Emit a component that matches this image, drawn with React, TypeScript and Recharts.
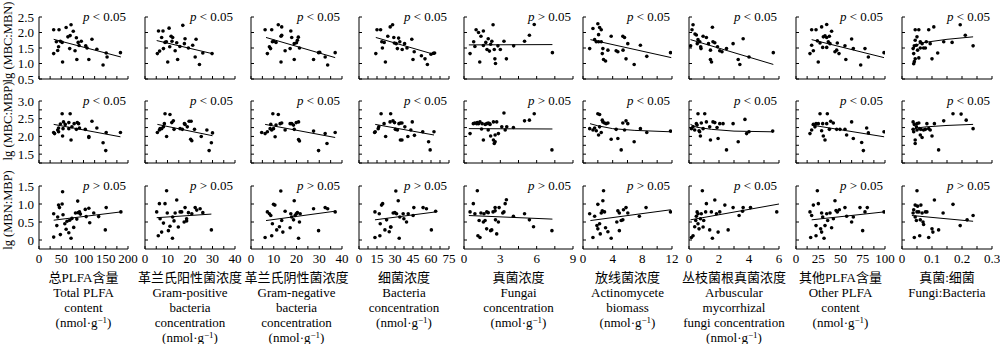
import React from "react";
import { ScatterChart, Scatter, XAxis, YAxis } from "recharts";

// ---- row 1: lg(MBC:MBN) ----
const r1c1 = [[33,2.09],[45,2.09],[61,2.16],[72,2.25],[77,2.04],[65,1.86],[70,1.9],[84,1.83],[39,1.7],[48,1.72],[52,1.68],[44,1.54],[33,1.32],[42,1.42],[53,1.05],[69,1.48],[81,1.41],[85,1.13],[88,1.68],[90,1.58],[95,1.72],[105,1.57],[108,1.5],[119,1.78],[112,1.13],[130,1.46],[144,0.95],[151,1.34],[153,1.21],[183,1.35]];
const r1c2 = [[5.5,1.32],[6.5,1.4],[6,2.05],[8,2.05],[10.7,2.14],[16.8,2.23],[7.4,1.84],[11.6,1.88],[12.3,1.84],[14.1,1.67],[8.9,1.68],[8.2,1.48],[10.1,1.05],[11,1.54],[13.4,1.41],[14.5,1.13],[17.8,1.8],[17.5,1.64],[19.3,1.5],[21.2,1.59],[22.7,1.78],[22.3,1.21],[24.2,0.97],[25.7,1.34],[29.8,1.32],[12,1.72],[15.5,1.55],[9.5,1.7]];
const r1c3 = [[6.2,2.09],[9.1,2.09],[12,2.25],[13.5,2.18],[7.2,1.32],[8.1,1.54],[8.6,1.48],[9.4,1.7],[10,1.72],[11,1.68],[13.2,1.88],[13.5,1.91],[13.2,1.05],[15,1.41],[17.2,1.48],[17.5,2.05],[17.9,1.84],[19,1.64],[19,1.13],[20.4,1.75],[20.8,1.85],[20,1.67],[21.3,1.5],[27.5,1.13],[29.7,1.35],[30.2,1.36],[32.6,1.21],[33.7,0.95],[37,1.35]];
const r1c4 = [[14,1.32],[15,2.09],[18,2.09],[19,1.7],[19.5,1.5],[21,1.68],[22,1.05],[24,1.88],[26,2.18],[28,2.25],[29,1.84],[29.5,1.66],[31,1.64],[32,1.48],[33,1.82],[34,1.7],[36,1.45],[38,1.64],[40,1.5],[44,1.78],[46,1.38],[45,1.13],[52,1.25],[55,1.15],[57,0.97],[60,1.3],[62,1.33],[63,1.34]];
const r1c5 = [[0.5,1.32],[0.8,1.7],[0.9,1.55],[1.0,2.09],[1.2,2.0],[1.3,1.05],[1.4,1.88],[1.6,2.05],[1.6,1.58],[1.8,1.68],[2.0,1.8],[2.1,1.4],[2.2,1.62],[2.3,1.72],[2.4,2.25],[2.5,1.45],[2.55,1.15],[2.6,1.0],[2.8,1.57],[3.0,1.45],[3.3,1.72],[3.5,1.15],[4.1,1.57],[5.0,1.72],[5.4,1.91],[5.8,2.26],[7.3,1.35],[1.9,1.45]];
const r1c6 = [[0.9,1.48],[1.34,2.13],[1.57,1.77],[1.79,1.7],[2.0,2.28],[2.24,2.16],[2.46,2.09],[2.1,1.93],[2.68,1.48],[2.6,1.32],[2.77,1.13],[3.04,1.08],[3.36,1.43],[3.8,1.88],[4.47,1.41],[4.7,1.38],[5.37,1.88],[5.6,1.84],[5.4,1.43],[5.8,1.15],[6.04,1.64],[6.9,0.97],[7.74,1.59],[8.6,1.23],[11.8,1.35],[2.46,1.7],[2.1,1.7]];
const r1c7 = [[0.11,1.57],[0.2,2.09],[0.27,2.25],[0.4,1.95],[0.49,1.92],[0.6,1.77],[0.55,1.64],[0.72,1.7],[0.78,1.54],[0.8,1.48],[0.94,1.88],[1.16,1.84],[1.3,1.64],[1.43,1.43],[1.56,2.17],[1.6,1.7],[1.5,1.05],[1.43,1.13],[1.72,1.67],[1.9,1.54],[2.05,1.41],[2.2,1.38],[2.5,1.48],[2.94,1.64],[3.28,1.13],[3.39,0.97],[3.61,1.8],[4.0,1.21],[5.62,1.35]];
const r1c8 = [[17.6,2.09],[22.5,2.09],[28.8,2.18],[34.5,2.26],[40,2.04],[17.6,1.59],[15.7,1.32],[19.5,1.41],[25,1.05],[24,1.73],[27,1.66],[30.7,1.86],[32.6,1.89],[34.5,1.84],[36.3,1.7],[30,1.52],[34.5,1.52],[38.2,1.64],[43.8,1.38],[46.4,1.66],[45.7,1.43],[48.3,1.32],[56,1.13],[55,1.57],[62.5,1.79],[64.4,1.48],[72.7,0.95],[77.5,1.48],[81.3,1.21],[98.9,1.35],[37.5,1.88]];
const r1c9 = [[0.039,1.32],[0.041,1.57],[0.037,1.48],[0.044,1.75],[0.044,2.09],[0.056,2.09],[0.05,1.86],[0.048,1.59],[0.052,1.43],[0.061,1.5],[0.044,1.15],[0.039,0.99],[0.041,1.06],[0.056,1.18],[0.067,1.64],[0.072,1.5],[0.081,1.7],[0.089,2.09],[0.094,1.64],[0.106,2.18],[0.1,1.15],[0.119,1.34],[0.139,1.7],[0.167,1.68],[0.194,2.25],[0.211,1.91],[0.237,1.57],[0.078,1.5],[0.061,1.7]];

const f1c1 = [[33,1.78],[184,1.21]];
const f1c2 = [[5.2,1.74],[29.8,1.32]];
const f1c3 = [[6.6,1.84],[37,1.19]];
const f1c4 = [[14,1.84],[63,1.29]];
const f1c5 = [[0.4,1.6],[7.3,1.61]];
const f1c6 = [[1.0,1.77],[11.9,1.19]];
const f1c7 = [[0.1,1.77],[5.62,0.97]];
const f1c8 = [[17.6,1.77],[98.9,1.19]];
const f1c9 = [[0.037,1.45],[0.045,1.57],[0.06,1.65],[0.09,1.7],[0.15,1.78],[0.237,1.86]];

// ---- row 2: lg(MBC:MBP) ----
const r2c1 = [[33,2.11],[35,2.08],[42,2.18],[44,2.24],[44,2.13],[48,2.35],[52,2.64],[55,2.41],[53,2.01],[54,2.22],[59,2.34],[67,2.39],[70,2.64],[72,1.9],[67,2.22],[74,2.27],[79,2.36],[84,2.2],[86,2.39],[89,2.36],[91,2.24],[104,2.2],[112,2.0],[112,1.97],[119,2.43],[130,2.24],[144,1.82],[150,1.6],[151,2.11],[183,2.11]];
const r2c2 = [[5.5,2.11],[6.4,2.18],[7.4,2.22],[8.2,2.27],[8.9,2.64],[11.1,2.62],[8.6,2.36],[9.6,2.0],[11.9,2.39],[12.6,2.44],[12.9,2.2],[15.6,2.22],[17.5,2.36],[17.8,2.34],[18.8,2.27],[19.6,2.43],[20.5,2.43],[20.3,1.92],[20.8,1.88],[22,2.2],[25,2.0],[27.5,2.18],[28.5,1.6],[30,2.1],[29.5,1.82],[6.7,2.22],[16.6,2.2]];
const r2c3 = [[4.7,2.11],[6.2,2.08],[7.2,2.13],[8.4,2.22],[9.1,2.18],[9.6,2.64],[10.6,1.99],[11,2.32],[12,2.62],[12.8,2.36],[13.5,2.38],[15,2.18],[17.2,2.36],[17.9,2.36],[18.7,2.32],[19,2.2],[19.9,2.39],[20.9,2.41],[20.9,1.91],[21.3,1.87],[27.5,2.15],[29.7,1.6],[32.6,2.08],[33.4,1.8],[37,2.11],[9.9,2.22],[8.7,2.34]];
const r2c4 = [[13,2.11],[13.5,2.13],[16,2.22],[16.5,2.27],[18.4,2.64],[20.9,2.36],[22.2,2.0],[25.9,2.41],[26.4,2.64],[28.3,2.44],[29.6,2.39],[30.3,2.2],[32,2.18],[33.3,2.36],[34.5,2.38],[35.8,2.38],[34.5,1.9],[35.8,1.9],[38.2,2.27],[40.7,2.0],[43.2,2.18],[44.4,2.41],[46.2,2.03],[53.1,2.13],[58,1.85],[59.3,1.62],[62.5,2.13]];
const r2c5 = [[0.5,2.08],[0.77,2.36],[0.9,2.38],[1.05,2.36],[1.1,2.39],[1.2,2.36],[1.32,2.41],[1.45,2.21],[1.5,2.36],[1.6,1.9],[1.75,2.34],[1.88,2.36],[2.0,2.38],[2.15,2.34],[2.2,2.01],[2.43,1.9],[2.5,1.8],[2.0,2.18],[2.1,2.36],[2.43,2.41],[2.57,2.04],[2.57,1.85],[2.7,2.41],[2.84,2.08],[3.12,2.27],[3.3,2.66],[3.4,2.18],[3.53,2.27],[4.08,2.25],[5.0,2.44],[5.4,2.46],[5.8,2.64],[7.26,1.62]];
const r2c6 = [[0.9,2.22],[1.34,2.18],[1.57,2.24],[1.79,2.16],[2.0,2.64],[2.24,2.62],[2.1,2.04],[2.46,2.11],[2.6,2.46],[2.68,2.41],[2.9,2.38],[3.13,2.36],[3.36,2.38],[3.8,1.92],[4.7,1.94],[4.47,2.2],[5.37,2.38],[5.8,2.44],[6.04,2.36],[5.15,1.62],[5.6,2.18],[6.9,1.85],[7.74,2.22],[8.6,2.11],[11.8,2.15],[2.24,2.27]];
const r2c7 = [[0.16,2.22],[0.27,2.27],[0.38,2.18],[0.49,2.36],[0.6,2.64],[0.67,2.16],[0.76,2.01],[0.82,2.38],[1.05,2.64],[1.16,2.41],[1.38,2.27],[1.43,1.9],[1.6,2.41],[1.72,2.39],[1.87,2.25],[1.94,1.94],[2.05,2.36],[2.27,2.36],[2.5,1.62],[2.94,2.36],[3.28,1.85],[0.54,2.32],[0.71,2.13],[0.94,2.22],[3.73,2.48],[3.84,2.08],[4.0,2.13],[5.58,2.15]];
const r2c8 = [[15.7,2.08],[17.6,2.18],[19.5,2.34],[22.5,2.36],[27,2.64],[28.8,2.16],[30.7,2.01],[32.6,1.9],[30,2.36],[34.5,2.36],[35.2,2.64],[37.5,2.2],[39,2.43],[41.9,2.38],[45.7,2.2],[49.4,2.2],[55,2.2],[56.9,2.04],[62.5,2.41],[64.4,1.94],[73.8,1.83],[75.7,1.6],[79.4,2.24],[81.3,2.1],[98.9,2.13],[21.3,2.27],[25.1,2.36]];
const r2c9 = [[0.037,2.41],[0.041,2.34],[0.037,2.2],[0.039,2.13],[0.044,1.9],[0.044,1.8],[0.05,2.36],[0.056,2.38],[0.059,2.22],[0.061,2.04],[0.067,1.97],[0.072,2.18],[0.078,2.2],[0.083,2.36],[0.089,2.22],[0.1,2.01],[0.108,2.36],[0.122,1.62],[0.139,2.44],[0.17,2.64],[0.197,2.63],[0.214,2.46],[0.237,2.22],[0.094,2.18],[0.05,2.18],[0.063,2.2],[0.048,2.27]];

const f2c1 = [[33,2.34],[183,1.99]];
const f2c2 = [[5.5,2.34],[30,2.02]];
const f2c3 = [[6.2,2.34],[37,1.97]];
const f2c4 = [[13.5,2.34],[62.5,2.04]];
const f2c5 = [[0.4,2.22],[7.3,2.21]];
const f2c6 = [[0.95,2.36],[2,2.3],[4,2.22],[7,2.17],[11.9,2.13]];
const f2c7 = [[0.1,2.34],[0.5,2.26],[1.5,2.2],[3,2.15],[5.6,2.13]];
const f2c8 = [[17.6,2.32],[99,1.99]];
const f2c9 = [[0.037,2.2],[0.05,2.24],[0.08,2.27],[0.15,2.31],[0.237,2.34]];

// ---- row 3: lg(MBN:MBP) ----
const r3c1 = [[33,0.73],[33,0.08],[42,0.64],[44,0.97],[46,0.9],[48,0.15],[52,1.0],[53,1.34],[54,0.7],[58,0.45],[61,0.3],[63,0.52],[67,0.2],[69,0.55],[72,0.05],[74,0.6],[78,0.35],[82,0.75],[85,0.58],[87,1.08],[91,0.78],[93,0.72],[104,0.85],[106,0.65],[112,0.88],[114,0.48],[123,0.75],[134,0.65],[149,0.28],[151,0.9],[184,0.78],[40,0.4],[88,0.76]];
const r3c2 = [[5.2,0.78],[5.9,0.12],[6.4,1.01],[7.4,0.22],[8.2,0.47],[8.9,1.01],[9.6,1.37],[9.9,0.75],[10.4,0.26],[11.1,0.38],[12.2,0.05],[12.3,0.64],[12.9,0.53],[13.4,0.75],[14.1,1.11],[14.8,0.36],[15.6,0.78],[16.3,0.78],[17.4,0.5],[17.8,0.9],[18.5,0.59],[19.3,0.76],[20.8,0.73],[22.3,0.9],[23,0.83],[24.5,0.87],[25.7,0.76],[29.5,0.28],[6.7,0.59],[18.5,0.53]];
const r3c3 = [[6.2,0.07],[7.2,0.78],[8.1,0.73],[8.7,0.68],[9.1,0.12],[9.9,0.99],[10.5,0.97],[9.4,0.45],[11.3,0.28],[12.5,0.37],[13.1,1.36],[13.5,0.54],[14,0.22],[15,0.8],[17.2,0.34],[17.5,0.73],[17.9,0.64],[19,1.09],[18.7,0.56],[19.9,0.73],[20.4,0.76],[20.9,0.05],[21.3,0.5],[21.6,0.73],[27.5,0.87],[29.7,0.26],[32.6,0.9],[33.7,0.87],[37,0.78],[19.4,0.68]];
const r3c4 = [[13.3,0.78],[13.3,0.07],[16.9,0.73],[17.4,0.12],[18.8,0.97],[19.7,1.01],[17.7,0.45],[21.6,0.28],[23,0.56],[25.2,0.23],[26.3,0.36],[28.5,0.75],[29.9,0.76],[30.7,1.36],[32.7,1.09],[33.5,0.05],[34,0.64],[36.8,0.73],[37.4,0.59],[39.6,0.5],[41,0.73],[45.1,0.68],[45.7,0.9],[53.4,0.9],[56.2,0.87],[60.3,0.28],[63.9,0.8],[31.3,0.73],[26.6,0.36]];
const r3c5 = [[0.5,0.78],[0.77,1.01],[0.9,0.73],[1.1,1.37],[1.15,0.12],[1.32,0.07],[1.25,0.54],[1.4,0.75],[1.6,0.5],[1.65,0.73],[1.74,0.54],[1.87,0.31],[1.88,0.78],[2.0,0.76],[2.2,0.26],[2.29,0.28],[2.4,0.78],[2.57,0.9],[2.6,0.56],[2.57,0.81],[2.7,0.17],[2.84,0.5],[2.9,0.9],[3.2,0.75],[3.3,0.78],[3.4,1.01],[3.5,1.12],[4.08,0.66],[5.0,0.73],[5.4,0.56],[5.74,0.37],[7.26,0.26]];
const r3c6 = [[0.9,0.73],[1.34,0.07],[1.57,0.66],[2.0,0.99],[1.88,0.4],[2.0,0.31],[2.24,0.45],[2.33,0.17],[2.46,0.75],[2.6,0.81],[2.77,1.37],[2.68,1.09],[2.9,0.78],[3.04,0.34],[3.36,0.23],[3.8,0.05],[4.56,0.5],[4.7,0.81],[4.9,0.75],[4.9,0.26],[5.37,0.56],[5.46,0.84],[5.8,0.9],[6.04,0.75],[7.6,0.66],[8.5,0.9],[11.8,0.78],[5.15,0.54]];
const r3c7 = [[0.16,0.07],[0.27,0.12],[0.38,0.37],[0.45,0.54],[0.49,0.66],[0.54,0.78],[0.6,0.45],[0.67,0.31],[0.76,0.59],[0.82,0.73],[0.89,1.37],[0.98,0.54],[1.11,0.78],[1.16,1.01],[1.38,0.28],[1.49,0.78],[1.56,0.05],[1.72,1.11],[1.83,0.73],[1.94,0.22],[2.05,0.78],[2.39,0.97],[2.61,0.28],[2.94,0.9],[0.6,0.73],[0.94,0.36],[3.61,0.9],[3.57,0.8],[4.1,0.9],[3.34,0.68],[5.85,0.78]];
const r3c8 = [[15.7,0.78],[16.5,0.07],[17.6,0.68],[19.5,0.97],[22.5,0.12],[24,1.37],[25.1,1.01],[22.5,0.4],[27.7,0.31],[28.8,0.22],[28.8,0.75],[30,0.64],[31.5,0.05],[32.6,0.4],[34.5,0.73],[35.6,0.54],[38.2,0.75],[40,0.34],[42,0.59],[43.8,1.09],[45,0.82],[46.4,0.78],[48.7,0.84],[55,0.9],[56.9,0.66],[62.5,0.5],[64.4,0.64],[71.9,0.9],[74.9,0.26],[77.5,0.78],[80.1,0.9],[98.9,0.78]];
const r3c9 = [[0.039,0.84],[0.041,0.07],[0.037,0.75],[0.044,0.97],[0.05,1.37],[0.052,0.94],[0.056,0.78],[0.059,0.12],[0.048,0.54],[0.05,0.78],[0.061,0.56],[0.067,0.75],[0.07,0.5],[0.072,0.43],[0.078,0.78],[0.083,0.78],[0.089,0.07],[0.1,0.31],[0.103,0.22],[0.108,1.11],[0.122,0.28],[0.137,0.75],[0.17,0.99],[0.194,0.4],[0.217,0.56],[0.237,0.68],[0.044,0.64],[0.063,0.97]];

const f3c1 = [[33,0.55],[184,0.78]];
const f3c2 = [[5.2,0.62],[29.5,0.72]];
const f3c3 = [[6.6,0.54],[37,0.8]];
const f3c4 = [[13.3,0.56],[63.9,0.78]];
const f3c5 = [[0.4,0.68],[7.3,0.58]];
const f3c6 = [[1.0,0.54],[11.85,0.84]];
const f3c7 = [[0.1,0.56],[6.0,1.0]];
const f3c8 = [[17.6,0.56],[98.9,0.78]];
const f3c9 = [[0.033,0.68],[0.237,0.52]];

const points = [
  [r1c1, r1c2, r1c3, r1c4, r1c5, r1c6, r1c7, r1c8, r1c9],
  [r2c1, r2c2, r2c3, r2c4, r2c5, r2c6, r2c7, r2c8, r2c9],
  [r3c1, r3c2, r3c3, r3c4, r3c5, r3c6, r3c7, r3c8, r3c9],
];
const fits = [
  [f1c1, f1c2, f1c3, f1c4, f1c5, f1c6, f1c7, f1c8, f1c9],
  [f2c1, f2c2, f2c3, f2c4, f2c5, f2c6, f2c7, f2c8, f2c9],
  [f3c1, f3c2, f3c3, f3c4, f3c5, f3c6, f3c7, f3c8, f3c9],
];

const pRow1 = ["<", "<", "<", "<", ">", "<", "<", "<", "<"];
const pRow2 = ["<", "<", "<", "<", ">", "<", "<", "<", "<"];
const pRow3 = [">", ">", ">", ">", ">", ">", "<", ">", ">"];
const pSigns = [pRow1, pRow2, pRow3];

const rowTitles = ["lg (MBC:MBN)", "lg (MBC:MBP)", "lg (MBN:MBP)"];
const yDomains = [[0.5, 2.5], [1.25, 3], [-0.25, 1.5]];
const yTicks = [
  [0.5, 1, 1.5, 2, 2.5],
  [1.25, 1.5, 1.75, 2, 2.25, 2.5, 2.75, 3],
  [0, 0.5, 1, 1.5],
];
const yLabels = [
  [0.5, 1, 1.5, 2, 2.5],
  [1.5, 2, 2.5, 3],
  [0, 0.5, 1, 1.5],
];

const xMax = [200, 40, 40, 75, 9, 12, 6, 100, 0.3];
const xTicks = [
  [0, 25, 50, 75, 100, 125, 150, 175, 200],
  [0, 5, 10, 15, 20, 25, 30, 35, 40],
  [0, 5, 10, 15, 20, 25, 30, 35, 40],
  [0, 7.5, 15, 22.5, 30, 37.5, 45, 52.5, 60, 67.5, 75],
  [0, 1.5, 3, 4.5, 6, 7.5, 9],
  [0, 2, 4, 6, 8, 10, 12],
  [0, 1, 2, 3, 4, 5, 6],
  [0, 12.5, 25, 37.5, 50, 62.5, 75, 87.5, 100],
  [0, 0.05, 0.1, 0.15, 0.2, 0.25, 0.3],
];
const xLabels = [
  [0, 50, 100, 150, 200],
  [0, 10, 20, 30, 40],
  [0, 10, 20, 30, 40],
  [0, 15, 30, 45, 60, 75],
  [0, 3, 6, 9],
  [0, 4, 8, 12],
  [0, 2, 4, 6],
  [0, 25, 50, 75, 100],
  [0, 0.1, 0.2, 0.3],
];

const colTitles = [
  ["总PLFA含量", "Total PLFA", "content", "unit"],
  ["革兰氏阳性菌浓度", "Gram-positive", "bacteria", "concentration", "unit"],
  ["革兰氏阴性菌浓度", "Gram-negative", "bacteria", "concentration", "unit"],
  ["细菌浓度", "Bacteria", "concentration", "unit"],
  ["真菌浓度", "Fungai", "concentration", "unit"],
  ["放线菌浓度", "Actinomycete", "biomass", "unit"],
  ["丛枝菌根真菌浓度", "Arbuscular", "mycorrhizal", "fungi concentration", "unit"],
  ["其他PLFA含量", "Other PLFA", "content", "unit"],
  ["真菌:细菌", "Fungi:Bacteria"],
];

// layout (pixels)
const colLeft = [39, 145, 251, 359, 464, 583, 689, 796, 902];
const colWidth = [89, 90, 91, 90, 109, 89, 90, 89, 90];
const rowTop = [17, 101, 186];
const rowHeight = [62, 62, 63];
const rowTitleCenter = [42, 121, 210];

const FONT = '"Liberation Serif", "Times New Roman", "Noto Sans CJK SC", serif';
const lineStyle = { stroke: "#000", strokeWidth: 1 };
const tickText = { fontSize: 13, fill: "#000" };

const Dot = (p: any) => <circle cx={p.cx} cy={p.cy} r={1.8} fill="#000" />;
const NoDot = () => <g />;

function Panel({ r, c }: { r: number; c: number }) {
  const YW = 40, XH = 24, MT = 8, MR = 16;
  const W = colWidth[c];
  const H = rowHeight[r];
  const pts = points[r][c].map(([x, y]) => ({ x, y }));
  const fit = fits[r][c].map(([x, y]) => ({ x, y }));
  const fmtX = (v: number) => (r === 2 && xLabels[c].includes(v) ? String(v) : "");
  const fmtY = (v: number) =>
    c === 0 && yLabels[r].includes(v) ? (v === 0 ? "0" : v.toFixed(1)) : "";
  return (
    <div style={{ position: "absolute", left: colLeft[c] - YW, top: rowTop[r] - MT }}>
      <ScatterChart
        width={YW + W + MR}
        height={MT + H + XH}
        margin={{ top: MT, right: MR, bottom: 0, left: 0 }}
      >
        <XAxis
          type="number"
          dataKey="x"
          domain={[0, xMax[c]]}
          ticks={xTicks[c]}
          interval={0}
          allowDataOverflow
          height={XH}
          tickSize={-3}
          tickMargin={8}
          axisLine={lineStyle}
          tickLine={lineStyle}
          tick={tickText}
          tickFormatter={fmtX}
        />
        <YAxis
          type="number"
          dataKey="y"
          domain={yDomains[r]}
          ticks={yTicks[r]}
          interval={0}
          allowDataOverflow
          width={YW}
          tickSize={-3}
          tickMargin={8}
          axisLine={lineStyle}
          tickLine={lineStyle}
          tick={tickText}
          tickFormatter={fmtY}
        />
        <Scatter data={pts} shape={Dot} isAnimationActive={false} />
        <Scatter
          data={fit}
          shape={NoDot}
          line={{ stroke: "#000", strokeWidth: 1 }}
          lineType="joint"
          isAnimationActive={false}
        />
      </ScatterChart>
    </div>
  );
}

const Unit = () => (
  <span>
    (nmol·g<sup style={{ fontSize: 9, verticalAlign: "top", lineHeight: "10px" }}>−1</sup>)
  </span>
);

export default function App() {
  const rows = [0, 1, 2];
  const cols = [0, 1, 2, 3, 4, 5, 6, 7, 8];
  return (
    <div
      style={{
        position: "absolute",
        left: 0,
        top: 0,
        width: 1000,
        height: 344,
        background: "#fff",
        fontFamily: FONT,
        color: "#000",
        overflow: "hidden",
      }}
    >
      {rows.map((r) =>
        cols.map((c) => <Panel key={`${r}-${c}`} r={r} c={c} />)
      )}
      {rows.map((r) =>
        cols.map((c) => (
          <div
            key={`p-${r}-${c}`}
            style={{
              position: "absolute",
              left: colLeft[c] + colWidth[c] - 2 - 80,
              width: 80,
              top: rowTop[r] - 9,
              lineHeight: "18px",
              fontSize: 13,
              textAlign: "right",
              whiteSpace: "nowrap",
            }}
          >
            <i>p</i> {pSigns[r][c]} 0.05
          </div>
        ))
      )}
      {rows.map((r) => (
        <div
          key={`t-${r}`}
          style={{
            position: "absolute",
            left: 8 - 60,
            top: rowTitleCenter[r] - 8,
            width: 120,
            height: 16,
            lineHeight: "16px",
            fontSize: 12.5,
            textAlign: "center",
            whiteSpace: "nowrap",
            transform: "rotate(-90deg)",
          }}
        >
          {rowTitles[r]}
        </div>
      ))}
      {cols.map((c) => (
        <div
          key={`ct-${c}`}
          style={{
            position: "absolute",
            left: colLeft[c] + colWidth[c] / 2 - 65,
            width: 130,
            top: 270,
            lineHeight: "15px",
            fontSize: 13,
            textAlign: "center",
            whiteSpace: "nowrap",
          }}
        >
          {colTitles[c].map((t, i) => (
            <div key={i}>{t === "unit" ? <Unit /> : t}</div>
          ))}
        </div>
      ))}
    </div>
  );
}
